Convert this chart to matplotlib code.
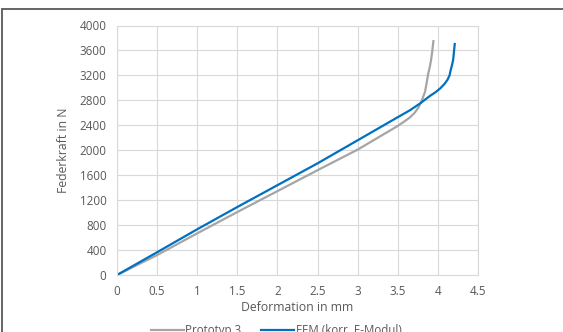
import matplotlib
matplotlib.use("Agg")
import matplotlib.pyplot as plt
from matplotlib.patches import Rectangle

plt.rcParams['font.family'] = ['Open Sans', 'DejaVu Sans']

# Messdaten Prototyp 3 (Deformation in mm, Federkraft in N)
proto_x = [0, 0.5, 1.0, 1.5, 2.0, 2.5, 3.0, 3.5, 3.58, 3.65, 3.71, 3.76, 3.80,
           3.84, 3.86, 3.88, 3.90, 3.915, 3.93, 3.944]
proto_f = [0, 320, 668, 1010, 1345, 1680, 2010, 2390, 2460, 2525, 2600, 2690, 2800,
           2939, 3080, 3233, 3340, 3447, 3590, 3750]

# FEM-Rechnung (korrigierter E-Modul)
fem_x = [0, 0.5, 1.0, 1.5, 2.0, 2.5, 3.0, 3.5, 3.65, 3.78, 3.90, 3.97, 4.03,
         4.08, 4.12, 4.145, 4.16, 4.175, 4.19, 4.21]
fem_f = [0, 365, 733, 1090, 1440, 1790, 2160, 2530, 2640, 2752, 2870, 2930, 2993,
         3060, 3130, 3200, 3287, 3360, 3447, 3703]

x_ticks = [0, 0.5, 1, 1.5, 2, 2.5, 3, 3.5, 4, 4.5]
y_ticks = list(range(0, 4001, 400))

W, H = 563, 332
fig = plt.figure(figsize=(W / 100, H / 100), dpi=100)

# Rahmen um das Diagramm (rechts/unten abgeschnitten)
fig.patches.append(Rectangle((2 / W, -0.2), 1.2, (H - 9) / H + 0.2,
                             transform=fig.transFigure, fill=False,
                             edgecolor='#595959', linewidth=1.3))

ax = fig.add_axes([117 / W, (H - 275) / H, (478 - 117) / W, (275 - 25.5) / H])

ax.plot(proto_x, proto_f, color='#A5A5A5', linewidth=1.6, label='Prototyp 3')
ax.plot(fem_x, fem_f, color='#0070C0', linewidth=1.6, label='FEM (korr. E-Modul)')

ax.set_xlim(0, 4.5)
ax.set_ylim(0, 4000)
ax.set_xticks(x_ticks)
ax.set_xticklabels([str(t) for t in x_ticks])
ax.set_yticks(y_ticks)
ax.grid(True, color='#D9D9D9', linewidth=0.8)
ax.set_axisbelow(True)
for s in ax.spines.values():
    s.set_color('#D9D9D9')
    s.set_linewidth(0.8)
ax.tick_params(length=0, labelsize=8.4, colors='#595959', pad=7.5)

ax.set_xlabel('Deformation in mm', fontsize=8.8, color='#595959', labelpad=2)
ax.set_ylabel('Federkraft in N', fontsize=8.8, color='#595959', labelpad=7)

fig.legend(loc='center', bbox_to_anchor=(276 / W, 1.5 / H), ncol=2, frameon=False,
           fontsize=8.3, labelcolor='#595959', handlelength=2.9, handletextpad=0.1,
           columnspacing=1.7)

fig.savefig('out.png', dpi=100)
